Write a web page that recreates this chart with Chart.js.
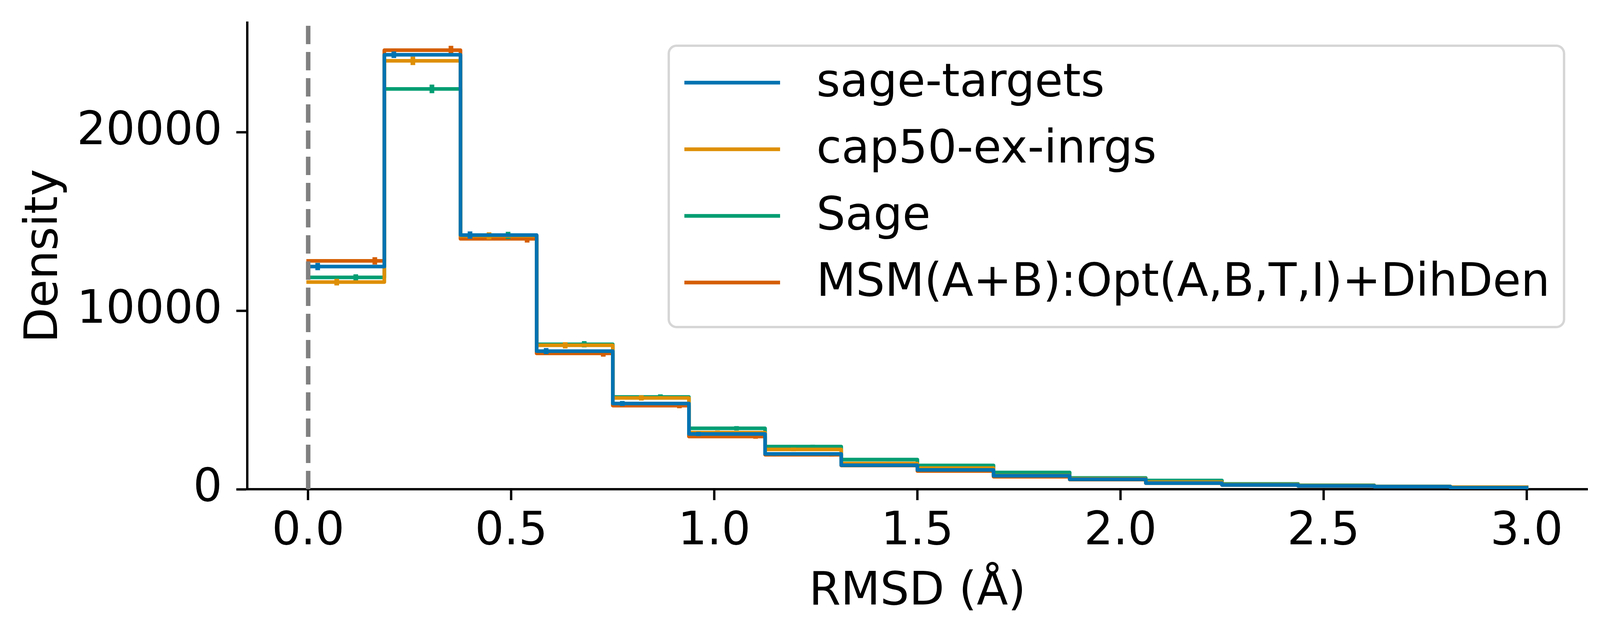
<!DOCTYPE html>
<html>
<head>
<meta charset="utf-8">
<script src="https://cdn.jsdelivr.net/npm/chart.js@4"></script>
<style>
  html, body { margin: 0; padding: 0; background: #fff; overflow: hidden; }
  #wrap { width: 4121px; height: 1643px; overflow: hidden; }
  canvas { display: block; }
</style>
</head>
<body>
<div id="wrap"><canvas id="rmsdChart" width="4121" height="1643"></canvas></div>
<script>
// bin edges of the RMSD histogram (Å)
var binEdges = [0, 0.1875, 0.375, 0.5625, 0.75, 0.9375, 1.125, 1.3125, 1.5,
                1.6875, 1.875, 2.0625, 2.25, 2.4375, 2.625, 2.8125, 3.0];

// density per bin
var sageTargets = [12480, 24350, 14245, 7740, 4805, 3096, 1979, 1343, 1081, 752, 555, 344, 241, 184, 143, 83];
var cap50 =       [11610, 24013, 14200, 8066, 5115, 3172, 2230, 1441, 1187, 770, 580, 399, 265, 200, 150, 116];
var sage =        [11873, 22436, 14230, 8123, 5172, 3413, 2392, 1661, 1333, 940, 630, 488, 300, 223, 158, 100];
var msm =         [12797, 24607, 14034, 7612, 4686, 2953, 1932, 1330, 1019, 700, 540, 335, 235, 180, 140, 80];

// error bar half-heights
var sageTargetsErr = [205, 183, 205, 170, 140, 120, 100, 85, 75, 60, 50, 40, 35, 30, 25, 20];
var cap50Err =       [186, 238, 200, 175, 145, 120, 100, 85, 75, 60, 50, 40, 35, 30, 25, 20];
var sageErr =        [175, 240, 200, 175, 145, 125, 105, 90, 80, 65, 55, 45, 35, 30, 25, 20];
var msmErr =         [205, 248, 210, 180, 145, 120, 100, 85, 75, 60, 50, 40, 35, 30, 25, 20];

var seriesLabels = ["sage-targets", "cap50-ex-inrgs", "Sage", "MSM(A+B):Opt(A,B,T,I)+DihDen"];
var seriesColors = ["#0173B2", "#DE8F05", "#029E73", "#D55E00"];
var seriesValues = [sageTargets, cap50, sage, msm];
var seriesErrors = [sageTargetsErr, cap50Err, sageErr, msmErr];
// where inside each bin the error bar of a series sits (fraction of bin width)
var errOffsets = [0.125, 0.375, 0.625, 0.875];

var xTicks = [0, 0.5, 1.0, 1.5, 2.0, 2.5, 3.0];
var yTicks = [0, 10000, 20000];

var FONT = "DejaVu Sans";
var FS = 117;

function stepData(vals) {
    var pts = [];
    for (var i = 0; i < vals.length; i++) {
        pts.push({ x: binEdges[i], y: vals[i] });
    }
    pts.push({ x: binEdges[vals.length], y: vals[vals.length - 1] });
    return pts;
}

function errData(vals, errs, off) {
    var pts = [];
    for (var i = 0; i < vals.length; i++) {
        var x = binEdges[i] + (binEdges[i + 1] - binEdges[i]) * off;
        pts.push({ x: x, y: vals[i] - errs[i] });
        pts.push({ x: x, y: vals[i] + errs[i] });
        pts.push({ x: x, y: null });
    }
    return pts;
}

var datasets = [];
for (var s = 0; s < seriesLabels.length; s++) {
    datasets.push({
        label: seriesLabels[s],
        data: stepData(seriesValues[s]),
        stepped: true,
        borderColor: seriesColors[s],
        borderWidth: 9.3,
        borderJoinStyle: "round",
        borderCapStyle: "square",
        pointRadius: 0,
        fill: false
    });
    datasets.push({
        label: seriesLabels[s] + " err",
        data: errData(seriesValues[s], seriesErrors[s], errOffsets[s]),
        borderColor: seriesColors[s],
        borderWidth: 12,
        borderCapStyle: "butt",
        pointRadius: 0,
        spanGaps: false,
        fill: false
    });
}

// dashed reference line at x = 0
var zeroLine = {
    id: "zeroLine",
    afterDatasetsDraw: function (chart) {
        var ctx = chart.ctx, area = chart.chartArea;
        var x = chart.scales.x.getPixelForValue(0);
        ctx.save();
        ctx.strokeStyle = "#808080";
        ctx.lineWidth = 11.5;
        ctx.setLineDash([47, 20]);
        ctx.beginPath();
        ctx.moveTo(x, area.bottom);
        ctx.lineTo(x, area.top);
        ctx.stroke();
        ctx.restore();
    }
};

// matplotlib style legend box
var boxLegend = {
    id: "boxLegend",
    afterDraw: function (chart) {
        var ctx = chart.ctx;
        var left = 1712, top = 117, w = 2292, h = 720, r = 20;
        ctx.save();
        ctx.beginPath();
        ctx.roundRect(left, top, w, h, r);
        ctx.fillStyle = "rgba(255,255,255,0.8)";
        ctx.fill();
        ctx.lineWidth = 6;
        ctx.strokeStyle = "#d6d6d6";
        ctx.stroke();
        ctx.font = FS + "px '" + FONT + "'";
        ctx.textBaseline = "middle";
        ctx.fillStyle = "#000";
        for (var i = 0; i < seriesLabels.length; i++) {
            var y = 211.5 + i * 170.5;
            ctx.strokeStyle = seriesColors[i];
            ctx.lineWidth = 9.3;
            ctx.beginPath();
            ctx.moveTo(1752, y);
            ctx.lineTo(1997, y);
            ctx.stroke();
            ctx.fillText(seriesLabels[i], 2090, y + 4);
        }
        ctx.restore();
    }
};

function noPad(axis) {
    axis.paddingTop = 0;
    axis.paddingBottom = 0;
    axis.paddingLeft = 0;
    axis.paddingRight = 0;
}

var ctx = document.getElementById("rmsdChart").getContext("2d");
window.rmsdChart = new Chart(ctx, {
    type: "line",
    data: { datasets: datasets },
    options: {
        responsive: false,
        animation: false,
        devicePixelRatio: 1,
        layout: { padding: { left: 0, top: 58, right: 57, bottom: 0 } },
        plugins: { legend: { display: false }, tooltip: { enabled: false } },
        scales: {
            x: {
                type: "linear",
                min: -0.15,
                max: 3.15,
                afterBuildTicks: function (axis) {
                    axis.ticks = xTicks.map(function (v) { return { value: v }; });
                },
                afterFit: function (axis) { axis.height = 391; noPad(axis); },
                ticks: {
                    autoSkip: false,
                    maxRotation: 0,
                    padding: 12,
                    color: "#000",
                    font: { family: FONT, size: FS },
                    callback: function (v) { return Number(v).toFixed(1); }
                },
                grid: { drawOnChartArea: false, drawTicks: true, tickLength: 28, tickWidth: 6, tickColor: "#000" },
                border: { display: true, color: "#000", width: 6 },
                title: {
                    display: true,
                    text: "RMSD (Å)",
                    color: "#000",
                    font: { family: FONT, size: FS, lineHeight: 1 },
                    padding: { top: 0, bottom: 68 }
                }
            },
            y: {
                type: "linear",
                min: 0,
                max: 26150,
                afterBuildTicks: function (axis) {
                    axis.ticks = yTicks.map(function (v) { return { value: v }; });
                },
                afterFit: function (axis) { axis.width = 633; noPad(axis); },
                ticks: {
                    autoSkip: false,
                    padding: 36,
                    color: "#000",
                    font: { family: FONT, size: FS },
                    callback: function (v) { return String(v); }
                },
                grid: { drawOnChartArea: false, drawTicks: true, tickLength: 28, tickWidth: 6, tickColor: "#000" },
                border: { display: true, color: "#000", width: 6 },
                title: {
                    display: true,
                    text: "Density",
                    color: "#000",
                    font: { family: FONT, size: FS, lineHeight: 1 },
                    padding: { top: 57, bottom: 0 }
                }
            }
        }
    },
    plugins: [zeroLine, boxLegend]
});
</script>
</body>
</html>
